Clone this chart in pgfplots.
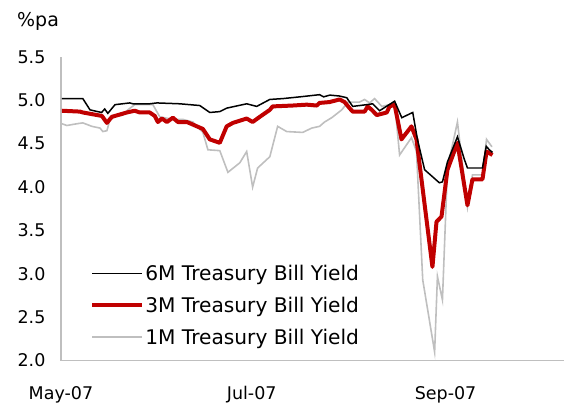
\documentclass[border=0pt]{standalone}
\usepackage{pgfplots}
\pgfplotsset{compat=1.18}
\usepackage{fontspec}
\setmainfont{DejaVu Sans}
\definecolor{myred}{HTML}{C00000}
\definecolor{mygray}{HTML}{BFBFBF}
\definecolor{axgray}{HTML}{BFBFBF}
\begin{document}
\begin{tikzpicture}
\begin{axis}[
  scale only axis,
  width=504pt, height=304pt,
  xmin=0, xmax=161,
  ymin=2, ymax=5.5,
  axis x line=bottom, axis y line=left,
  axis line style={draw=axgray, line width=1.2pt, -},
  major tick length=0pt,
  xtick={0,61,123},
  xticklabels={May-07,Jul-07,Sep-07},
  ytick={2,2.5,3,3.5,4,4.5,5,5.5},
  /pgf/number format/.cd, fixed, fixed zerofill, precision=1, assume math mode=true,
  /pgfplots/.cd,
  yticklabel style={xshift=-12pt},
  xticklabel style={yshift=-22pt},
  tick label style={font=\fontsize{17.5}{20}\selectfont},
  clip=false,
  reverse legend,
  legend style={at={(0.058,0.318)}, anchor=north west, draw=none, fill=none,
    font=\fontsize{20.2}{22}\selectfont, row sep=13pt, inner sep=0pt,
    nodes={inner sep=1pt}},
  legend cell align=left,
  legend image code/.code={\draw[#1] (0pt,0pt) -- (50pt,0pt);},
]
\coordinate (O) at (rel axis cs:0,0);
% 1M
\addplot[mygray, line width=1.6pt] coordinates {
(0.3,4.73) (1.9,4.71) (5.1,4.73) (7,4.74) (9.9,4.70) (12.5,4.68) (13.4,4.64) (14.7,4.65)
(15.7,4.78) (17.9,4.82) (19.8,4.83) (21.4,4.89) (23.6,4.95) (29.4,4.95) (31.6,4.81)
(35.8,4.78) (39,4.78) (42.2,4.75) (45.4,4.63) (47,4.43) (50.8,4.42) (53.4,4.17)
(57.2,4.28) (59.4,4.41) (61.3,4.00) (62.9,4.22) (66.8,4.35) (69.3,4.70) (72.2,4.64)
(77.3,4.63) (80.2,4.68) (82.7,4.70) (84.3,4.75) (86.6,4.80) (89.8,4.89) (90.7,4.93)
(91.7,4.98) (95.5,4.98) (97.1,5.01) (98.7,4.97) (100.3,5.02) (102.6,4.93) (105.1,4.95)
(106.7,4.98) (108.3,4.37) (112.1,4.57) (113.7,4.41) (115.7,2.93) (119.5,2.10)
(120.4,2.97) (122,2.70) (123.6,4.22) (126.8,4.75) (130,3.77) (131.6,4.14) (134.8,4.14)
(136.1,4.55) (137.7,4.47) (138,4.47)
};
\addlegendentry{1M Treasury Bill Yield}
% 3M
\addplot[myred, line width=4pt, line join=round] coordinates {
(0.3,4.88) (6.1,4.87) (7,4.86) (13.1,4.82) (14.7,4.74) (16.3,4.81) (21.1,4.86)
(23.6,4.88) (25.2,4.86) (28.4,4.86) (30,4.82) (31,4.75) (32.3,4.79) (33.9,4.75)
(35.8,4.80) (37.4,4.75) (40.3,4.75) (45.4,4.67) (47.6,4.55) (50.8,4.51) (53,4.70)
(55,4.74) (59.4,4.79) (61.3,4.75) (63.6,4.81) (66.8,4.89) (67.7,4.93) (74.1,4.94)
(78.6,4.95) (81.8,4.94) (82.7,4.97) (85.9,4.98) (89.1,5.01) (90.7,4.98) (92.3,4.91)
(93.3,4.87) (97.1,4.87) (98.1,4.93) (99.4,4.89) (101,4.83) (104.2,4.86) (105.1,4.93)
(106.7,4.95) (108.9,4.55) (112.1,4.70) (113.7,4.55) (118.8,3.08) (120.1,3.60)
(121.7,3.66) (123.6,4.20) (126.8,4.51) (130,3.79) (131.6,4.09) (134.8,4.09)
(136.1,4.41) (138,4.37)
};
\addlegendentry{3M Treasury Bill Yield}
% 6M
\addplot[black, line width=1.5pt] coordinates {
(0.3,5.02) (7,5.02) (9.3,4.89) (13,4.86) (14,4.90) (15,4.85) (17.3,4.95) (22,4.97)
(23,4.96) (28.4,4.96) (30.7,4.97) (38,4.96) (44.4,4.94) (47.6,4.86) (50.8,4.87)
(53,4.91) (59.4,4.96) (62.6,4.93) (66.8,5.01) (71,5.02) (76.4,5.04) (82.7,5.065)
(84,5.04) (86,5.06) (89,5.05) (91.4,5.03) (93.3,4.93) (97.8,4.95) (99.7,4.96)
(101.9,4.88) (106.7,4.99) (109,4.80) (112.5,4.86) (114,4.55) (116.3,4.20) (121,4.05)
(122,4.06) (123.6,4.29) (126.8,4.58) (129,4.32) (130,4.22) (134.8,4.22) (136,4.47)
(137,4.43) (138,4.40)
};
\addlegendentry{6M Treasury Bill Yield}
\node[anchor=base west, inner sep=0pt, font=\fontsize{19}{22}\selectfont] at ([xshift=-44pt,yshift=30pt]rel axis cs:0,1) {\%pa};
\end{axis}
\path (O) ++(-61pt,-46pt) rectangle ++(565pt,407pt);
\end{tikzpicture}
\end{document}
